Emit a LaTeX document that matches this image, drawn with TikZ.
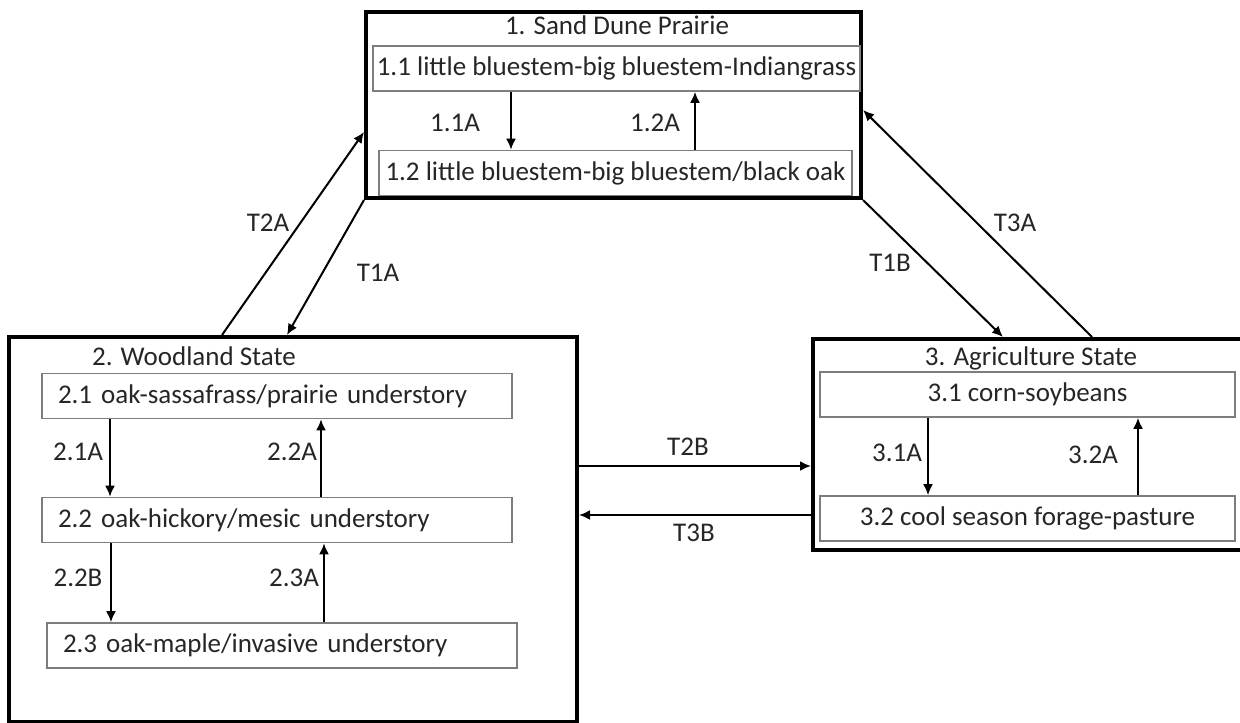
\documentclass[tikz,border=0pt]{standalone}
\usepackage{fontspec}
\setmainfont{Carlito}
\definecolor{stmText}{RGB}{38,38,38}
\definecolor{stmGray}{RGB}{125,125,125}
\usetikzlibrary{shapes,arrows.meta}

\begin{document}
\begin{tikzpicture}[
  x=0.5pt, y=-0.5pt,
  font=\fontsize{13.5}{16}\selectfont, text=stmText,
  state/.style={draw=black, line width=2pt, inner sep=0pt},
  phase/.style={
    draw=stmGray, line width=0.8pt, inner sep=0pt,
    minimum height=22.5pt, align=center
  },
  phaseL/.style={phase, text width=219pt, inner xsep=8pt, align=left},
  lbl/.style={inner sep=1pt},
  arr/.style={->, >={Latex[length=5.5pt,width=5pt]}, draw=black, line width=1pt}
]
  \clip (0,0) rectangle (1240,722);

  \node[state, minimum width=247.5pt, minimum height=93pt] (sdp) at (613.5,105) {};
  \node[state, minimum width=284pt, minimum height=192.5pt] (wood) at (293,529.5) {};
  \node[state, minimum width=214.5pt, minimum height=105.5pt] (agri) at (1027.5,444.5) {};

  \node (t1) at (617,25) {1. Sand Dune Prairie};
  \node[phase, minimum width=243.5pt] (s11) at (616.5,68.5) {1.1 little bluestem-big bluestem-Indiangrass};
  \node[phase, minimum width=236.5pt] (s12) at (615.5,173) {1.2 little bluestem-big bluestem/black oak};
  \node[lbl] (l11a) at (455,123) {1.1A};
  \node[lbl] (l12a) at (655,123) {1.2A};
  \draw[arr] (s11.south -| 511,0) -- (s12.north -| 511,0);
  \draw[arr] (s12.north -| 695,0) -- (s11.south -| 695,0);

  \node (t2) at (194,356) {2. Woodland State};
  \node[phaseL] (s21) at (277,396) {2.1 oak-sassafrass/prairie understory};
  \node[phaseL] (s22) at (277,520) {2.2 oak-hickory/mesic understory};
  \node[phaseL] (s23) at (282,645.5) {2.3 oak-maple/invasive understory};
  \node[lbl] (l21a) at (78,452) {2.1A};
  \node[lbl] (l22a) at (292,452) {2.2A};
  \node[lbl] (l22b) at (78,578) {2.2B};
  \node[lbl] (l23a) at (294,578) {2.3A};
  \draw[arr] (s21.south -| 110,0) -- (s22.north -| 110,0);
  \draw[arr] (s22.north -| 321,0) -- (s21.south -| 321,0);
  \draw[arr] (s22.south -| 111,0) -- (s23.north -| 111,0);
  \draw[arr] (s23.north -| 324,0) -- (s22.south -| 324,0);

  \node (t3) at (1031,358) {3. Agriculture State};
  \node[phase, minimum width=207.5pt] (s31) at (1027.5,394.5) {3.1 corn-soybeans};
  \node[phase, minimum width=207.5pt] (s32) at (1027.5,518.5) {3.2 cool season forage-pasture};
  \node[lbl] (l31a) at (897,453) {3.1A};
  \node[lbl] (l32a) at (1093,455) {3.2A};
  \draw[arr] (s31.south -| 928,0) -- (s32.north -| 928,0);
  \draw[arr] (s32.north -| 1138,0) -- (s31.south -| 1138,0);

  \draw[arr] (wood.north -| 222,0) -- (sdp.west |- 0,132);
  \draw[arr] (sdp.south west) -- (wood.north -| 287,0);
  \draw[arr] (sdp.south east) -- (agri.north -| 1003,0);
  \draw[arr] (agri.north -| 1092,0) -- (sdp.east |- 0,110);
  \draw[arr] (wood.east |- 0,466) -- (agri.west |- 0,466);
  \draw[arr] (agri.west |- 0,515) -- (wood.east |- 0,515);
  \node[lbl] (lt2a) at (268,223) {T2A};
  \node[lbl] (lt1a) at (378,273) {T1A};
  \node[lbl] (lt1b) at (890,263) {T1B};
  \node[lbl] (lt3a) at (1015,223) {T3A};
  \node[lbl] (lt2b) at (688,447) {T2B};
  \node[lbl] (lt3b) at (694,533) {T3B};
\end{tikzpicture}
\end{document}
